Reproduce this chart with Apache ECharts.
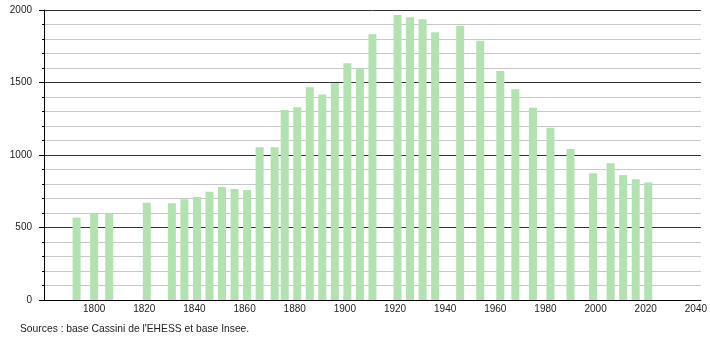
<!DOCTYPE html>
<html>
<head>
<meta charset="utf-8">
<script src="https://cdn.jsdelivr.net/npm/echarts@6/dist/echarts.min.js"></script>
<style>
html,body{margin:0;padding:0;background:#fff;}
#chart{width:710px;height:340px;}
</style>
</head>
<body>
<div id="chart"></div>
<script>
const years = [1793,1800,1806,1821,1831,1836,1841,1846,1851,1856,1861,1866,1872,1876,1881,1886,1891,1896,1901,1906,1911,1921,1926,1931,1936,1946,1954,1962,1968,1975,1982,1990,1999,2006,2011,2016,2021];
const population = [568,598,597,671,667,694,710,747,779,766,759,1053,1053,1310,1329,1467,1418,1494,1632,1598,1832,1966,1950,1936,1846,1892,1788,1579,1453,1326,1188,1041,874,943,862,832,811];
const yTicks = [0,500,1000,1500,2000];
const sourceText = "Sources : base Cassini de l'EHESS et base Insee.";

const chart = echarts.init(document.getElementById('chart'), null, {renderer:'canvas'});
chart.setOption({
  animation:false,
  backgroundColor:'#fff',
  textStyle:{fontFamily:'Liberation Sans, Arial, sans-serif'},
  grid:{left:44,top:10,right:9,bottom:40,containLabel:false},
  graphic:[{type:'text',left:20,top:324,style:{text:sourceText,fill:'#222',fontSize:10.3,fontFamily:'Liberation Sans, Arial, sans-serif'}}],
  xAxis:{
    type:'value',min:1780,max:2042,interval:20,
    axisLine:{show:true,onZero:false,lineStyle:{color:'#000',width:1}},
    axisTick:{show:false},
    splitLine:{show:false},
    axisLabel:{color:'#222',fontSize:10,margin:4,showMinLabel:false,showMaxLabel:false,
      formatter:v=> (v===1780||v>2040)?'':String(v)}
  },
  yAxis:{
    type:'value',min:yTicks[0],max:yTicks[yTicks.length-1],interval:500,
    axisLine:{show:true,lineStyle:{color:'#000',width:1}},
    axisTick:{show:true,length:5,inside:false,lineStyle:{color:'#000'}},
    minorTick:{show:true,splitNumber:5,length:2,lineStyle:{color:'#000'}},
    splitLine:{show:true,lineStyle:{color:'#333',width:1}},
    minorSplitLine:{show:true,lineStyle:{color:'#c8c8c8',width:1}},
    axisLabel:{color:'#222',fontSize:10,margin:12,formatter:v=>String(v)}
  },
  series:[{
    type:'bar',
    data:years.map((y,i)=>[y,population[i]]),
    barWidth:8,
    itemStyle:{color:'#b2e2b0'}
  }]
});
</script>
</body>
</html>
